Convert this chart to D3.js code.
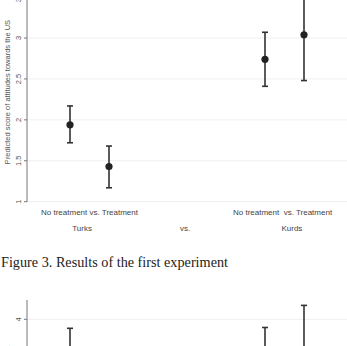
<!DOCTYPE html>
<html>
<head>
<meta charset="utf-8">
<script src="https://cdn.jsdelivr.net/npm/d3@7"></script>
<style>
  body { margin: 0; background: #fff; }
  svg { display: block; }
</style>
</head>
<body>
<div id="chart"></div>
<script>
// first experiment: predicted scores with 95% CIs
var cases = ["Turks, no treatment", "Turks, treatment", "Kurds, no treatment", "Kurds, treatment"];
var casePos = [1, 2, 6, 7];
var estimate = [1.94, 1.43, 2.74, 3.04];
var lower = [1.72, 1.17, 2.41, 2.48];
var upper = [2.17, 1.68, 3.07, 3.60];
var yTicks = [1, 1.5, 2, 2.5, 3, 3.5];
var pairLabels = ["No treatment vs. Treatment", "No treatment  vs. Treatment"];
var groupLabels = ["Turks", "vs.", "Kurds"];

// second experiment (only the top of the panel is visible)
var estimate2 = [3.40, 2.90, 3.40, 3.60];
var lower2 = [2.90, 2.40, 2.90, 3.00];
var upper2 = [3.89, 3.35, 3.90, 4.17];
var yTicks2 = [1, 1.5, 2, 2.5, 3, 3.5, 4];

var width = 347, height = 346;
var font = "Liberation Sans, Arial, sans-serif";

var svg = d3.select("#chart")
    .append("svg")
    .attr("width", width)
    .attr("height", height);

var x = d3.scaleLinear().domain([0, 8]).range([31, 343]);
var axisX = 27;

function panel(g, y, est, lo, hi, ticks, top, bottom, label, labelY) {
  // grid lines
  g.selectAll(".grid")
    .data(ticks)
    .enter().append("line")
    .attr("x1", axisX).attr("x2", width)
    .attr("y1", function(d){ return y(d); })
    .attr("y2", function(d){ return y(d); })
    .attr("stroke", "#efefef")
    .attr("stroke-width", 1);

  g.append("line")
    .attr("x1", axisX).attr("x2", axisX)
    .attr("y1", top).attr("y2", bottom)
    .attr("stroke", "#777")
    .attr("stroke-width", 1);

  g.selectAll(".tick")
    .data(ticks)
    .enter().append("line")
    .attr("x1", axisX - 3).attr("x2", axisX)
    .attr("y1", function(d){ return y(d); })
    .attr("y2", function(d){ return y(d); })
    .attr("stroke", "#777");

  g.selectAll(".tlab")
    .data(ticks)
    .enter().append("text")
    .attr("transform", function(d){ return "translate(20.5," + y(d) + ") rotate(-90)"; })
    .attr("text-anchor", "middle")
    .attr("font-family", font)
    .attr("font-size", 7.5)
    .attr("fill", "#555")
    .text(function(d){ return d; });

  g.append("text")
    .attr("transform", "translate(9.5," + labelY + ") rotate(-90)")
    .attr("text-anchor", "middle")
    .attr("font-family", font)
    .attr("font-size", 7.5)
    .attr("fill", "#555")
    .text(label);

  // error bars
  g.selectAll(".ci")
    .data(casePos)
    .enter().append("line")
    .attr("x1", function(d){ return x(d); })
    .attr("x2", function(d){ return x(d); })
    .attr("y1", function(d, i){ return y(lo[i]); })
    .attr("y2", function(d, i){ return y(hi[i]); })
    .attr("stroke", "#333")
    .attr("stroke-width", 1.6);

  [lo, hi].forEach(function(ends){
    g.selectAll(".cap")
      .data(casePos)
      .enter().append("line")
      .attr("x1", function(d){ return x(d) - 3; })
      .attr("x2", function(d){ return x(d) + 3; })
      .attr("y1", function(d, i){ return y(ends[i]); })
      .attr("y2", function(d, i){ return y(ends[i]); })
      .attr("stroke", "#333")
      .attr("stroke-width", 1.6);
  });

  g.selectAll(".pt")
    .data(casePos)
    .enter().append("circle")
    .attr("cx", function(d){ return x(d); })
    .attr("cy", function(d, i){ return y(est[i]); })
    .attr("r", 3.6)
    .attr("fill", "#222");
}

var y1 = d3.scaleLinear().domain([1, 3]).range([201.7, 38]);
panel(svg.append("g"), y1, estimate, lower, upper, yTicks, 0, 202,
      "Predicted score of attitudes towards the US", 92);

// category labels under first panel
svg.selectAll(".pair")
  .data(pairLabels)
  .enter().append("text")
  .attr("x", function(d, i){ return i === 0 ? x(1.5) : x(6.45); })
  .attr("y", 214.5)
  .attr("text-anchor", "middle")
  .attr("font-family", font)
  .attr("font-size", 8)
  .attr("fill", "#444")
  .style("white-space", "pre")
  .text(function(d){ return d; });

var groupX = [1.31, 3.95, 6.69];
svg.selectAll(".grp")
  .data(groupLabels)
  .enter().append("text")
  .attr("x", function(d, i){ return x(groupX[i]); })
  .attr("y", 231)
  .attr("text-anchor", "middle")
  .attr("font-family", font)
  .attr("font-size", 8)
  .attr("fill", "#444")
  .text(function(d){ return d; });

svg.append("text")
  .attr("x", 1)
  .attr("y", 266.5)
  .attr("font-family", "Liberation Serif, DejaVu Serif, serif")
  .attr("font-size", 14.5)
  .attr("fill", "#222")
  .attr("textLength", 227)
  .attr("lengthAdjust", "spacingAndGlyphs")
  .text("Figure 3. Results of the first experiment");

var y2 = d3.scaleLinear().domain([4, 3]).range([319.3, 401.2]);
panel(svg.append("g"), y2, estimate2, lower2, upper2, yTicks2, 300, height,
      "Predicted score of attitudes towards Russia", 418);
</script>
</body>
</html>
